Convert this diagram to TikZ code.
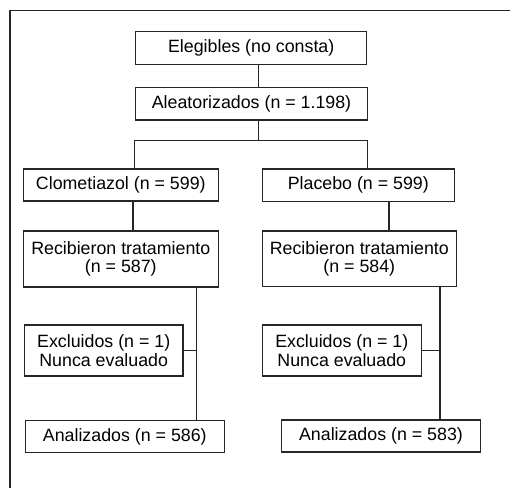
\documentclass[tikz,border=0pt]{standalone}
\usepackage{fontspec}
\setmainfont{Liberation Sans}
\tikzset{
  caja/.style={draw=black!85, line width=1.2pt, align=center, inner sep=0pt,
    font=\fontsize{17.8}{18.5}\selectfont, text=black},
  linea/.style={draw=black!85, line width=1.2pt}
}
\begin{document}
\begin{tikzpicture}[x=1pt,y=-1pt]
    \useasboundingbox (0,0) rectangle (510,488);
    % marco
    \draw[linea] (10,488) -- (10,10.5) -- (510,10.5);
    % cajas
    \node[caja, minimum width=231pt, minimum height=32.6pt] (eleg) at (251.2,48) {Elegibles (no consta)};
    \node[caja, minimum width=231.6pt, minimum height=32.3pt] (aleat) at (251.5,103.8) {Aleatorizados (n = 1.198)};
    \node[caja, minimum width=195pt, minimum height=32pt] (clom) at (120.8,185) {Clometiazol (n = 599)};
    \node[caja, minimum width=192pt, minimum height=32.5pt] (plac) at (358.3,185.2) {Placebo (n = 599)};
    \node[caja, minimum width=195pt, minimum height=56pt] (recL) at (120.8,259) {Recibieron tratamiento\\(n = 587)};
    \node[caja, minimum width=194pt, minimum height=55.5pt] (recR) at (359.3,258.8) {Recibieron tratamiento\\(n = 584)};
    \node[caja, minimum width=158.7pt, minimum height=51pt] (excL) at (103.7,350.5) {Excluidos (n = 1)\\Nunca evaluado};
    \node[caja, minimum width=159pt, minimum height=51pt] (excR) at (341.8,350.5) {Excluidos (n = 1)\\Nunca evaluado};
    \node[caja, minimum width=199pt, minimum height=31.5pt] (anL) at (124.8,436.5) {Analizados (n = 586)};
    \node[caja, minimum width=198.6pt, minimum height=32pt] (anR) at (381,436) {Analizados (n = 583)};
    % lineas de union
    \coordinate (centro) at (258.3,140.5);
    \coordinate (ramaL) at (134.5,140.5);
    \coordinate (ramaR) at (367.3,140.5);
    \draw[linea] (centro |- eleg.south) -- (centro |- aleat.north);
    \draw[linea] (centro |- aleat.south) -- (centro);
    \draw[linea] (ramaL |- clom.north) -- (ramaL) -- (ramaR) -- (ramaR |- plac.north);
    \draw[linea] ([xshift=12.2pt]clom.south) -- ([xshift=12.2pt]recL.north);
    \draw[linea] (plac.south -| 389,0) -- (recR.north -| 389,0);
    \draw[linea] (recL.south -| 196.7,0) -- (anL.north -| 196.7,0);
    \draw[linea] (excL.east) -- (excL.east -| 196.7,0);
    \draw[linea] (recR.south -| 440,0) -- (anR.north -| 440,0);
    \draw[linea] (excR.east) -- (excR.east -| 440,0);
\end{tikzpicture}
\end{document}
